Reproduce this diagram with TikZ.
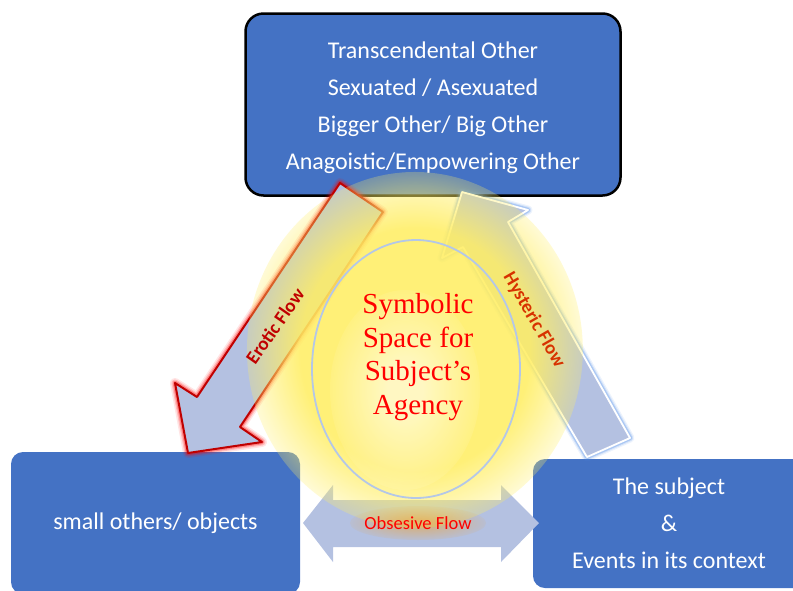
\documentclass[tikz,border=0pt]{standalone}
\usepackage{fontspec}
\setmainfont{Carlito}
\newfontfamily\agencyfont{Liberation Serif}
\usetikzlibrary{fadings}

\definecolor{boxblue}{RGB}{68,114,196}
\definecolor{flowfill}{RGB}{180,193,225}
\definecolor{glowyellow}{RGB}{255,238,100}
\definecolor{ringblue}{RGB}{180,199,231}
\definecolor{darkred}{RGB}{192,0,0}
\definecolor{hystred}{RGB}{215,50,0}
\definecolor{hystglow}{RGB}{80,140,230}

% soft edge for the glows (the fitted fading spans 2cm = 56.9bp)
\pgfdeclareradialshading{softglow}{\pgfpointorigin}{color(0bp)=(white); color(17bp)=(white); color(28.4bp)=(black); color(50bp)=(black)}
\pgfdeclarefading{glowfade}{\pgfuseshading{softglow}}
\pgfdeclareradialshading{softblob}{\pgfpointorigin}{color(0bp)=(white); color(6bp)=(white); color(28.4bp)=(black); color(50bp)=(black)}
\pgfdeclarefading{blobfade}{\pgfuseshading{softblob}}

\tikzset{
  otherbox/.style={fill=boxblue, rounded corners=12pt, inner sep=0pt, text=white,
    font=\fontsize{24}{37}\selectfont, align=center},
  flowlabel/.style={font=\bfseries\fontsize{19}{19}\selectfont},
}

\begin{document}
\begin{tikzpicture}[x=1pt,y=-1pt]
\useasboundingbox (0,0) rectangle (793,590);

% boxes
\node[otherbox, draw=black, line width=2.5pt, rounded corners=18pt,
  minimum width=375pt, minimum height=182pt] (bigother) at (433,104.5) {};
\node[otherbox, fill=none] (bigothertext) at ([yshift=-3pt]bigother.center)
  {Transcendental Other\\Sexuated / Asexuated\\Bigger Other/ Big Other\\Anagoistic/Empowering Other};
\node[otherbox, minimum width=289pt, minimum height=142pt] (smallothers) at (155.5,523)
  {small others/ objects};
\node[otherbox, minimum width=272pt, minimum height=129pt] (subject) at (669,523.5)
  {The subject\\\&\\Events in its context};

% block arrows
\def\eroticpath{(340,183) -- (383,212) -- (240,427) -- (262,442) -- (188,453) -- (175,383) -- (197,397) -- cycle}
\def\hystericpath{(462,192) -- (528,210) -- (508,222) -- (630,438) -- (587,457) -- (463,247) -- (442,258) -- cycle}
\def\obsesivepath{(303,523) -- (333,485) -- (333,500) -- (501,500) -- (501,485) -- (539,523) -- (501,562) -- (501,547) -- (333,547) -- (333,562) -- cycle}

\foreach \w/\o in {10/0.1,7/0.18,4.5/0.3}
  \draw[red, line width=\w pt, opacity=\o, line join=round] \eroticpath;
\draw[fill=flowfill, draw=darkred, line width=2pt, line join=round] \eroticpath;

\foreach \w/\o in {9/0.1,6.5/0.18,4.5/0.3}
  \draw[hystglow, line width=\w pt, opacity=\o, line join=round] \hystericpath;
\draw[fill=flowfill, draw=white, line width=1.8pt, line join=round] \hystericpath;

\fill[flowfill] \obsesivepath;

% glow and ellipse
\fill[glowyellow, opacity=0.88, path fading=glowfade, fit fading=true] (415,350) ellipse (168pt and 178pt);
\fill[white, opacity=0.55, path fading=blobfade, fit fading=true] (405,390) ellipse (75pt and 100pt);
\draw[ringblue, line width=1.8pt] (416,369) ellipse (104pt and 129pt);

\node[font=\agencyfont\fontsize{29}{33.5}\selectfont, text=red, align=center] (agency) at (418,357)
  {Symbolic\\Space for\\Subject’s\\Agency};

% flow labels
\node[flowlabel, text=darkred, rotate=55] (erotic) at (275,326) {Erotic Flow};
\node[flowlabel, text=hystred, rotate=-60] (hysteric) at (534,320) {Hysteric Flow};

\fill[orange!80!yellow, opacity=0.4, path fading=blobfade, fit fading=true] (418,523) ellipse (68pt and 17pt);
\node[font=\fontsize{18.5}{18.5}\selectfont, text=red] (obsesive) at (418,523) {Obsesive Flow};
\end{tikzpicture}
\end{document}
